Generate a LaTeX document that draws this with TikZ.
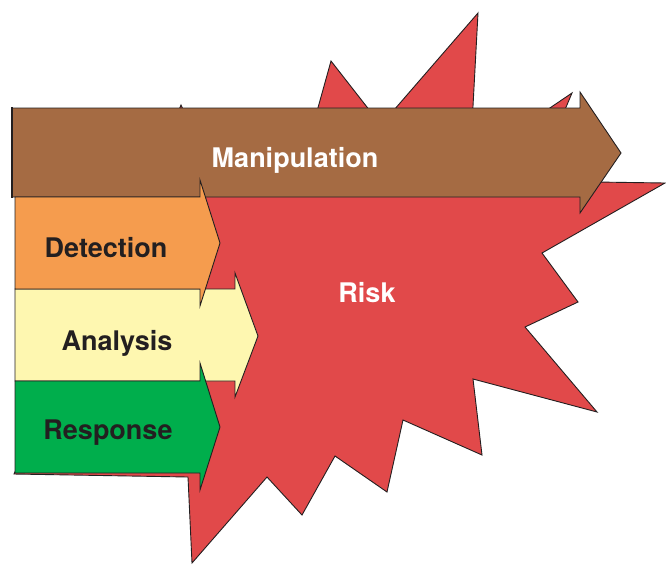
\documentclass[tikz,border=0pt]{standalone}
\usepackage{fontspec}
\setmainfont{TeX Gyre Heros}
\definecolor{brownA}{HTML}{A56B43}
\definecolor{orangeA}{HTML}{F59C4E}
\definecolor{yellowA}{HTML}{FEF7B0}
\definecolor{greenA}{HTML}{00AE4C}
\definecolor{redA}{HTML}{E1494A}
\definecolor{ink}{HTML}{231F20}
\tikzset{
  shapeline/.style={draw=ink, line width=0.9pt, line join=miter},
  lbl/.style={font=\fontsize{27}{30}\selectfont\bfseries, inner sep=0pt},
}
\begin{document}
\begin{tikzpicture}[x=1pt,y=-1pt]
\useasboundingbox (0,0) rectangle (666,566);
% star (Risk)
\fill[redA, shapeline]
  (181,105) -- (215,180) -- (309,140) -- (331,61) -- (381,125) -- (478,13) -- (470,162)
  -- (572,93) -- (548,150) -- (596,182) -- (665,183) -- (542,253)
  -- (578,302) -- (525,327) -- (597,412) -- (473,379) -- (482,455)
  -- (403,420) -- (387,492) -- (335,456) -- (302,515) -- (267,477)
  -- (192,563) -- (188,477) -- (14,474) -- (150,180) -- cycle;
% Manipulation arrow
\fill[brownA, shapeline] (12,108) -- (580,108) -- (580,92) -- (621,153) -- (580,213)
  -- (580,197) -- (12,197) -- cycle;
\draw[ink, line width=2.6pt] (12,107) -- (12,198);
% Analysis arrow
\fill[yellowA, shapeline] (15,289) -- (235,289) -- (235,273) -- (258,336) -- (235,397)
  -- (235,381) -- (15,381) -- cycle;
% Detection arrow
\fill[orangeA, shapeline] (15,197) -- (200,197) -- (200,180) -- (220,243) -- (200,306)
  -- (200,289) -- (15,289) -- cycle;
% Response arrow
\fill[greenA, shapeline] (15,381) -- (200,381) -- (200,363) -- (220,427) -- (200,490)
  -- (200,473) -- (15,473) -- cycle;
% labels
\node[lbl, text=white] (manip) at (295,160) {Manipulation};
\node[lbl, text=white] (risk) at (367,293) {Risk};
\node[lbl, text=ink] (detect) at (106,248) {Detection};
\node[lbl, text=ink] (analysis) at (117,343) {Analysis};
\node[lbl, text=ink] (resp) at (108,433) {Response};
\end{tikzpicture}
\end{document}
